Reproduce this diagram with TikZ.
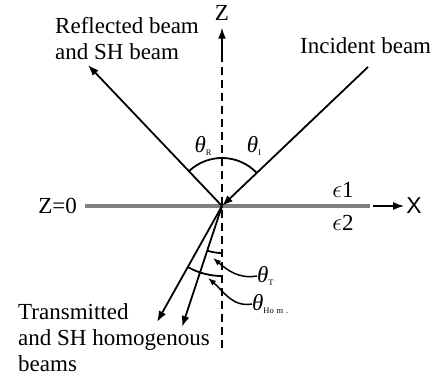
\documentclass[tikz,border=0pt]{standalone}
\usepackage{fontspec}
\setmainfont{Liberation Serif}
\newfontfamily\axisfont{Liberation Sans}
\usetikzlibrary{arrows.meta}
\tikzset{x=1pt, y=1pt}
\tikzset{beam/.style={line width=1.8pt, -{Latex[length=11pt,width=8pt]}},
  pointer/.style={line width=1.5pt, -{Latex[length=8pt,width=6pt]}},
  arcline/.style={line width=1.8pt},
  txt/.style={inner sep=0pt, font=\fontsize{23}{26}\selectfont, align=left},
  ang/.style={inner sep=0pt, font=\fontsize{23}{26}\selectfont}}
\newcommand{\thlbl}[1]{\textit{θ}\raisebox{-3pt}{\fontsize{8.5}{9}\selectfont #1}}

\begin{document}
\begin{tikzpicture}
\useasboundingbox (-222,-176) rectangle (218,206);
\coordinate (O) at (0,0);
\coordinate (inc) at (146,139);
\coordinate (refl) at (-134,141);
\coordinate (trans) at (-65,-116);
\coordinate (hom) at (-40,-121);
\coordinate (tT) at (-9,-52);
\coordinate (tH) at (-14,-72);

% interface and axes
\draw[gray, line width=4pt] (-137,0) -- (148,0) coordinate (xend);
\node[txt, font=\axisfont\fontsize{23}{26}\selectfont] (X) at (192,0) {X};
\draw[line width=1.6pt, -{Latex[length=11pt,width=8pt]}, shorten <=3pt, shorten >=2pt] (xend) -- (X.west);
\draw[dashed, line width=1.6pt, dash pattern=on 8pt off 5pt] (0,-142) coordinate (zbot) -- (0,152) coordinate (ztop);
\node[txt] (Z) at (0,193) {Z};
\draw[line width=1.6pt, -{Latex[length=11pt,width=8pt]}, shorten >=7pt] (ztop) -- (Z.south);
\node[txt, anchor=east] (Z0) at (-145,0) {Z=0};
\node[txt] (e1) at (121,16) {$\epsilon$1};
\node[txt] (e2) at (121,-17) {$\epsilon$2};

% beams
\draw[beam] (inc) -- (O);
\draw[beam] (O) -- (refl);
\draw[beam] (O) -- (trans);
\draw[beam] (O) -- (hom);

% angles
\draw[arcline] (O) ++(43.6:48) arc[start angle=43.6, end angle=133.5, radius=48];
\draw[arcline] (O) ++(251.7:47) arc[start angle=251.7, end angle=270, radius=47];
\draw[arcline] (O) ++(240.7:70) arc[start angle=240.7, end angle=270, radius=70];
\node[ang] (thR) at (-19,60) {\thlbl{R}};
\node[ang] (thI) at (32,60) {\thlbl{I}};
\node[ang, anchor=west] (thT) at (35,-70) {\thlbl{T}};
\node[ang, anchor=west] (thH) at (30,-98) {\thlbl{Ho\,\,m\,\,.}};
\draw[pointer] (thT.west) to[out=190, in=-40] (tT);
\draw[pointer] (thH.west) to[out=190, in=-40] (tH);

% beam labels
\node[txt, anchor=north west] (refllbl) at (-167,189) {Reflected beam\\and SH beam};
\node[txt, anchor=north west] (inclbl) at (78,169) {Incident beam};
\node[txt, anchor=north west] (translbl) at (-204,-97) {Transmitted\\and SH homogenous\\beams};
\end{tikzpicture}
\end{document}
